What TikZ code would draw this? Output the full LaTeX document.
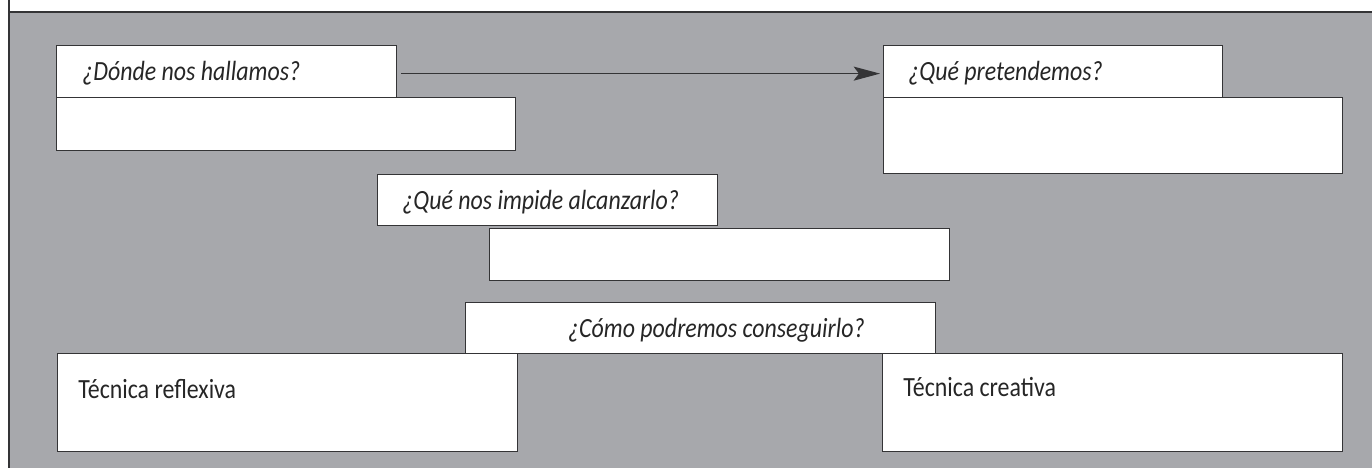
\documentclass[tikz,border=0pt]{standalone}
\usepackage{fontspec}
\setmainfont{Carlito}[FakeStretch=0.86]
\usetikzlibrary{arrows.meta}

\definecolor{panelgray}{RGB}{167,168,172}
\definecolor{edgegray}{RGB}{52,52,54}
\definecolor{inkgray}{RGB}{38,38,38}

\tikzset{
  box/.style 2 args={draw=edgegray, fill=white, line width=0.7pt,
    anchor=north west, inner sep=0pt,
    minimum width=#1*0.02cm, minimum height=#2*0.02cm},
  lbl/.style={anchor=base west, inner sep=0pt, text=inkgray,
    font=\fontsize{15.8}{18}\selectfont\itshape},
  plainlbl/.style={lbl, font=\fontsize{15.8}{18}\selectfont},
  arr/.style={draw=edgegray, line width=0.7pt,
    -{Stealth[length=15pt, width=8pt, inset=3pt]}},
}

\begin{document}
\begin{tikzpicture}[x=0.02cm, y=-0.02cm]
    \useasboundingbox (0,0) rectangle (1372,468);

    % panel
    \fill[panelgray] (9,12) rectangle (1372,468);
    \draw[edgegray, line width=0.7pt] (9,0) -- (9,468);
    \draw[edgegray, line width=0.7pt] (9,12) -- (1372,12);

    % boxes
    \node[box={459}{53}] (whereB) at (56,97) {};
    \node[box={340}{52}] (where) at (56,45) {};
    \node[box={459}{76}] (aimB) at (883,97) {};
    \node[box={339}{52}] (aim) at (883,45) {};
    \node[box={340}{51}] (obst) at (377,174) {};
    \node[box={460}{52}] (obstB) at (489,228) {};
    \node[box={460}{98}] (refl) at (57,353) {};
    \node[box={460}{98}] (crea) at (882,353) {};
    \node[box={470}{51}] (how) at (465,302) {};

    % texts
    \node[lbl] (whereT) at ([shift={(26,35)}]where.north west) {¿Dónde nos hallamos?};
    \node[lbl] (aimT) at ([shift={(25,35)}]aim.north west) {¿Qué pretendemos?};
    \node[lbl] (obstT) at ([shift={(25,35)}]obst.north west) {¿Qué nos impide alcanzarlo?};
    \node[lbl, anchor=base east] (howT) at ([shift={(400,35)}]how.north west) {¿Cómo podremos conseguirlo?};
    \node[plainlbl] (reflT) at ([shift={(21,45)}]refl.north west) {Técnica reflexiva};
    \node[plainlbl] (creaT) at ([shift={(21,43)}]crea.north west) {Técnica creativa};

    % arrow
    \draw[arr] ([shift={(4,2)}]where.east) -- ([shift={(-3,2)}]aim.west);
\end{tikzpicture}
\end{document}
